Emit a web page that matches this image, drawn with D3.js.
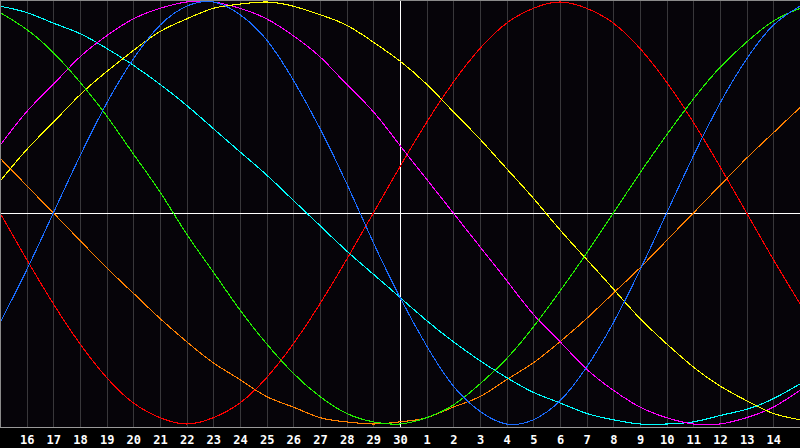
<!DOCTYPE html>
<html>
<head>
<meta charset="utf-8">
<script src="https://cdn.jsdelivr.net/npm/d3@7"></script>
<style>
  html, body { margin: 0; padding: 0; background: #000; }
  svg { display: block; }
</style>
</head>
<body>
<svg id="chart" width="800" height="448"></svg>
<script>
// Day labels along the bottom axis (position index 0..30)
const dayLabels = ["", "16","17","18","19","20","21","22","23","24","25","26","27","28","29","30",
                   "1","2","3","4","5","6","7","8","9","10","11","12","13","14", ""];

// Cycle values (-1..1) read at each day gridline, index 0..30
const physical = [-0.52,-0.27,0,0.27,0.52,0.73,0.89,0.98,1.00,0.94,0.82,0.63,0.40,0.14,-0.14,-0.40,
                  -0.63,-0.82,-0.94,-1.00,-0.98,-0.89,-0.73,-0.52,-0.27,0,0.27,0.52,0.73,0.89,0.98];
const emotional = [0,-0.22,-0.43,-0.62,-0.78,-0.90,-0.97,-1.00,-0.97,-0.90,-0.78,-0.62,-0.43,-0.22,0,0.22,
                   0.43,0.62,0.78,0.90,0.97,1.00,0.97,0.90,0.78,0.62,0.43,0.22,0,-0.22,-0.43];
const intellectual = [0.95,0.87,0.76,0.62,0.46,0.28,0.10,-0.10,-0.28,-0.46,-0.62,-0.76,-0.87,-0.95,-0.99,-1.00,
                      -0.97,-0.91,-0.81,-0.69,-0.54,-0.37,-0.19,0,0.19,0.37,0.54,0.69,0.81,0.91,0.97];
const intuitive = [0.32,0.48,0.61,0.74,0.84,0.92,0.97,1.00,1.00,0.97,0.92,0.84,0.74,0.61,0.48,0.32,
                   0.16,0,-0.16,-0.32,-0.48,-0.61,-0.74,-0.84,-0.92,-0.97,-1.00,-1.00,-0.97,-0.92,-0.84];
const aesthetic = [0.15,0.30,0.43,0.56,0.67,0.77,0.86,0.92,0.97,0.99,1.00,0.98,0.94,0.89,0.81,0.72,
                   0.61,0.48,0.35,0.21,0.07,-0.08,-0.22,-0.36,-0.50,-0.62,-0.73,-0.82,-0.89,-0.95,-0.98];
const awareness = [0.26,0.13,0,-0.13,-0.26,-0.38,-0.50,-0.61,-0.71,-0.79,-0.87,-0.92,-0.97,-0.99,-1.00,-0.99,
                   -0.97,-0.92,-0.87,-0.79,-0.71,-0.61,-0.50,-0.38,-0.26,-0.13,0,0.13,0.26,0.38,0.50];
const spiritual = [0.98,0.95,0.90,0.85,0.78,0.70,0.61,0.51,0.40,0.29,0.18,0.06,-0.06,-0.18,-0.29,-0.40,
                   -0.51,-0.61,-0.70,-0.78,-0.85,-0.90,-0.95,-0.98,-1.00,-1.00,-0.99,-0.96,-0.93,-0.88,-0.81];

const seriesNames = ["awareness","emotional","spiritual","intuitive","aesthetic","intellectual","physical"];
const seriesValues = [awareness, emotional, spiritual, intuitive, aesthetic, intellectual, physical];
const seriesColors = ["#ff8000","#ff0000","#00ffff","#ff00ff","#ffff00","#22ee00","#1a6cff"];

const W = 800, H = 448;
const plotBottom = 427;
const svg = d3.select("#chart");

const x = d3.scaleLinear().domain([0, 30]).range([0, 800]);
const y = d3.scaleLinear().domain([-1, 1]).range([424, 2]);

svg.append("rect").attr("x", 0).attr("y", 0).attr("width", W).attr("height", H).attr("fill", "#000");
svg.append("rect").attr("x", 0).attr("y", 0).attr("width", W).attr("height", plotBottom).attr("fill", "#060409");

// vertical grid
const days = d3.range(1, 30);
svg.append("g").selectAll("line").data(days).join("line")
  .attr("x1", d => Math.round(x(d)) + 0.5).attr("x2", d => Math.round(x(d)) + 0.5)
  .attr("y1", 0).attr("y2", plotBottom)
  .attr("stroke", d => d === 15 ? "#ffffff" : "#38373a")
  .attr("stroke-width", 1)
  .attr("shape-rendering", "crispEdges");

// horizontal zero line
svg.append("line")
  .attr("x1", 0).attr("x2", W)
  .attr("y1", Math.round(y(0)) + 0.5).attr("y2", Math.round(y(0)) + 0.5)
  .attr("stroke", "#ffffff").attr("shape-rendering", "crispEdges");

// center white line again on top
svg.append("line")
  .attr("x1", Math.round(x(15)) + 0.5).attr("x2", Math.round(x(15)) + 0.5)
  .attr("y1", 0).attr("y2", plotBottom)
  .attr("stroke", "#ffffff").attr("shape-rendering", "crispEdges");

// curves
const line = d3.line()
  .x((d, i) => x(i))
  .y(d => y(d))
  .curve(d3.curveNatural);

svg.append("g").selectAll("path").data(seriesValues).join("path")
  .attr("d", d => line(d))
  .attr("fill", "none")
  .attr("stroke", (d, i) => seriesColors[i])
  .attr("stroke-width", 1.1)
  .attr("shape-rendering", "crispEdges");

// border
svg.append("line").attr("x1", 0).attr("x2", W).attr("y1", 0.5).attr("y2", 0.5)
  .attr("stroke", "#8a8a8a").attr("shape-rendering", "crispEdges");
svg.append("line").attr("x1", 0.5).attr("x2", 0.5).attr("y1", 0).attr("y2", plotBottom)
  .attr("stroke", "#8a8a8a").attr("shape-rendering", "crispEdges");

// bottom axis
const axis = d3.axisBottom(x)
  .tickValues(d3.range(1, 30))
  .tickFormat(d => dayLabels[d])
  .tickSize(0)
  .tickPadding(8);
const gAxis = svg.append("g").attr("transform", `translate(0,${plotBottom})`).call(axis);
gAxis.select(".domain").attr("stroke", "#9a9a9a").attr("d", "M0,0.5H800").attr("stroke-width", 1)
  .attr("shape-rendering", "crispEdges");
gAxis.selectAll("text")
  .attr("fill", "#ffffff")
  .attr("font-family", "'DejaVu Sans Mono', monospace")
  .attr("font-weight", "bold")
  .attr("font-size", 12);
</script>
</body>
</html>
